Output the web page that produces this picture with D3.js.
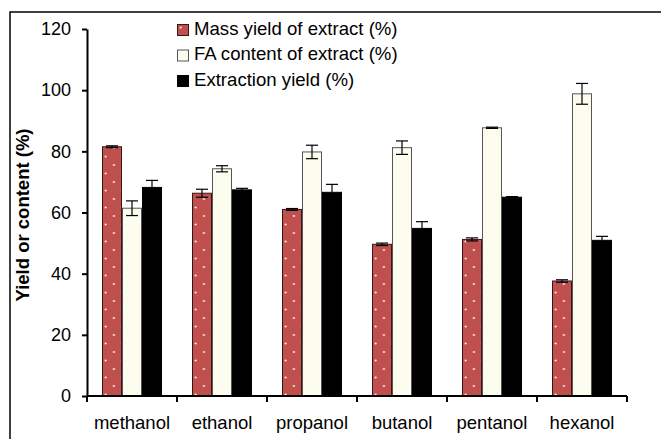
<!DOCTYPE html>
<html>
<head>
<meta charset="utf-8">
<script src="https://cdn.jsdelivr.net/npm/d3@7"></script>
<style>
  html, body { margin: 0; padding: 0; background: #fff; }
  svg { display: block; font-family: Arial, "Liberation Sans", sans-serif; }
</style>
</head>
<body>
<svg id="chart" width="661" height="439"></svg>
<script>
// Solvents tested
const categories = ["methanol", "ethanol", "propanol", "butanol", "pentanol", "hexanol"];
// Series names
const seriesNames = ["Mass yield of extract (%)", "FA content of extract (%)", "Extraction yield (%)"];
// Mean values (%) per solvent
const massYield = [81.5, 66.3, 61.0, 49.6, 51.2, 37.6];
const faContent = [61.4, 74.3, 79.8, 81.2, 87.7, 98.8];
const extractionYield = [68.2, 67.4, 66.6, 54.8, 65.0, 50.9];
// Standard deviations (%)
const massYieldErr = [0.3, 1.3, 0.3, 0.4, 0.5, 0.4];
const faContentErr = [2.4, 1.0, 2.2, 2.2, 0.2, 3.4];
const extractionYieldErr = [2.3, 0.5, 2.6, 2.2, 0.2, 1.3];
// Y axis ticks
const yTicks = [0, 20, 40, 60, 80, 100, 120];

const svg = d3.select("#chart");
const margin = { left: 87, right: 627, top: 29, bottom: 396 };

const seriesVals = [massYield, faContent, extractionYield];
const seriesErrs = [massYieldErr, faContentErr, extractionYieldErr];

// Dotted fill for the mass-yield bars
const defs = svg.append("defs");
const pat = defs.append("pattern")
  .attr("id", "dots")
  .attr("patternUnits", "userSpaceOnUse")
  .attr("width", 16.6).attr("height", 17);
pat.append("rect").attr("width", 16.6).attr("height", 17).attr("fill", "#C0504D");
pat.append("circle").attr("cx", 3.6).attr("cy", 3.5).attr("r", 1.1).attr("fill", "#fdeeee");
pat.append("circle").attr("cx", 11.9).attr("cy", 12).attr("r", 1.1).attr("fill", "#fdeeee");

const fills = ["url(#dots)", "#FDFDEF", "#000000"];
const strokes = ["#3a1717", "#555555", "#000000"];
const legendFills = ["url(#dots)", "#FDFDEF", "#000000"];

// Outer frame
svg.append("rect")
  .attr("x", 10).attr("y", 12)
  .attr("width", 700).attr("height", 500)
  .attr("fill", "none").attr("stroke", "#000").attr("stroke-width", 1.5);

const x0 = d3.scaleBand()
  .domain(categories)
  .range([margin.left, margin.right])
  .paddingInner(1 / 3)
  .paddingOuter(1 / 6);

const x1 = d3.scaleBand()
  .domain(d3.range(seriesNames.length))
  .range([0, x0.bandwidth()]);

const y = d3.scaleLinear().domain([0, 120]).range([margin.bottom, margin.top]);

// Bars
const groups = svg.append("g").selectAll("g")
  .data(categories)
  .join("g")
  .attr("transform", d => `translate(${x0(d)},0)`);

groups.each(function (cat, ci) {
  const g = d3.select(this);
  seriesNames.forEach((s, si) => {
    const v = seriesVals[si][ci];
    g.append("rect")
      .attr("x", x1(si) + 0.5)
      .attr("y", y(v))
      .attr("width", x1.bandwidth() - 1)
      .attr("height", y(0) - y(v))
      .attr("fill", fills[si])
      .attr("stroke", strokes[si])
      .attr("stroke-width", 1);
  });
  // Error bars
  seriesNames.forEach((s, si) => {
    const v = seriesVals[si][ci];
    const e = seriesErrs[si][ci];
    const cx = x1(si) + x1.bandwidth() / 2;
    const eb = g.append("g").attr("stroke", "#000").attr("stroke-width", 1.2);
    eb.append("line").attr("x1", cx).attr("x2", cx).attr("y1", y(v + e)).attr("y2", y(v - e));
    eb.append("line").attr("x1", cx - 6).attr("x2", cx + 6).attr("y1", y(v + e)).attr("y2", y(v + e));
    eb.append("line").attr("x1", cx - 6).attr("x2", cx + 6).attr("y1", y(v - e)).attr("y2", y(v - e));
  });
});

// Y axis
const yAxis = svg.append("g")
  .attr("transform", `translate(${margin.left},0)`)
  .call(d3.axisLeft(y).tickValues(yTicks).tickSize(5).tickPadding(11).tickSizeOuter(0));
yAxis.select(".domain").attr("stroke-width", 2);
yAxis.selectAll(".tick line").attr("stroke-width", 2);
yAxis.selectAll("text").attr("font-size", 18).attr("fill", "#000")
  .attr("font-family", "Arial, 'Liberation Sans', sans-serif");

// X axis with ticks at the category boundaries
const xAxisG = svg.append("g").attr("transform", `translate(0,${margin.bottom})`);
xAxisG.append("line")
  .attr("x1", margin.left).attr("x2", margin.right)
  .attr("stroke", "#000").attr("stroke-width", 2);
const step = x0.step();
const boundaries = d3.range(categories.length + 1).map(i => margin.left + i * step);
xAxisG.selectAll("line.tk").data(boundaries).join("line")
  .attr("class", "tk")
  .attr("x1", d => d).attr("x2", d => d)
  .attr("y1", 0).attr("y2", 6)
  .attr("stroke", "#000").attr("stroke-width", 2);
xAxisG.selectAll("text").data(categories).join("text")
  .attr("x", d => x0(d) + x0.bandwidth() / 2)
  .attr("y", 33)
  .attr("text-anchor", "middle")
  .attr("font-size", 18.5)
  .text(d => d);

// Y axis title
svg.append("text")
  .attr("transform", `translate(29,215) rotate(-90)`)
  .attr("text-anchor", "middle")
  .attr("font-size", 18.5)
  .attr("font-weight", "bold")
  .text("Yield or content (%)");

// Legend
const legend = svg.append("g").attr("transform", "translate(177,24)");
seriesNames.forEach((s, i) => {
  const row = legend.append("g").attr("transform", `translate(0,${i * 25.5})`);
  row.append("rect")
    .attr("x", 0.5).attr("y", 0.5)
    .attr("width", 11).attr("height", 11)
    .attr("fill", legendFills[i])
    .attr("stroke", strokes[i]).attr("stroke-width", 1);
  row.append("text")
    .attr("x", 17).attr("y", 10.5)
    .attr("font-size", 18.6)
    .text(s);
});
</script>
</body>
</html>
